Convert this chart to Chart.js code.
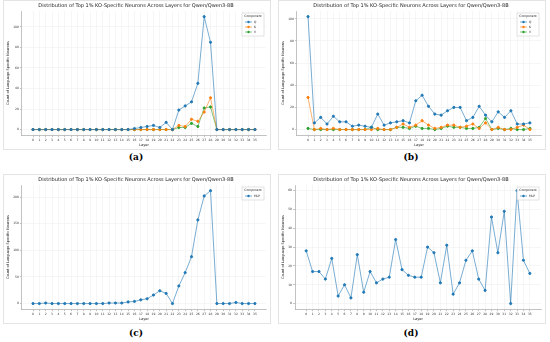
<!DOCTYPE html>
<html lang="en">
<head>
<meta charset="UTF-8">
<title>Top 1% KO-Specific Neurons</title>
<script src="https://cdn.jsdelivr.net/npm/chart.js"></script>
<style>
  body { margin: 0; background: #fff; width: 550px; height: 342px; position: relative; overflow: hidden; }
  .panel { position: absolute; width: 268px; height: 150px; border: 1px solid #e4e4e4; box-sizing: border-box; }
  .cap { position: absolute; width: 272px; text-align: center; font-family: "DejaVu Serif", "Liberation Serif", serif; font-weight: bold; font-size: 9px; }
</style>
</head>
<body>
<div class="panel" style="left:3px;top:0px"><canvas id="ca" width="266" height="148"></canvas></div>
<div class="panel" style="left:278px;top:0px"><canvas id="cb" width="266" height="148"></canvas></div>
<div class="panel" style="left:3px;top:174px"><canvas id="cc" width="266" height="148"></canvas></div>
<div class="panel" style="left:278px;top:174px"><canvas id="cd" width="266" height="148"></canvas></div>
<div class="cap" style="left:0;top:152px">(a)</div>
<div class="cap" style="left:275px;top:152px">(b)</div>
<div class="cap" style="left:0;top:328px">(c)</div>
<div class="cap" style="left:275px;top:328px">(d)</div>
<script>
const layers = Array.from({ length: 36 }, (_, i) => i);
const titleText = "Distribution of Top 1% KO-Specific Neurons Across Layers for Qwen/Qwen3-8B";

// (a) attention components
const aQ = [0,0,0,0,0,0,0,0,0,0,0,0,0,0,0,0,1,2,3,4,2,7,0,19,23,27,45,110,85,0,0,0,0,0,0,0];
const aK = [0,0,0,0,0,0,0,0,0,0,0,0,0,0,0,0,0,0,0,0,0,0,0,4,3,10,8,17,31,0,0,0,0,0,0,0];
const aV = [0,0,0,0,0,0,0,0,0,0,0,0,0,0,0,0,0,0,0,0,0,0,0,2,2,6,3,21,22,0,0,0,0,0,0,0];

// (b) attention components
const bQ = [102,6,11,5,12,7,7,3,4,3,2,14,4,6,7,8,6,26,31,21,14,13,17,20,20,8,11,21,13,7,16,11,17,5,5,6];
const bK = [29,0,1,0,1,0,0,0,0,0,0,1,0,0,2,5,2,4,8,4,1,2,4,4,2,3,5,1,6,0,2,0,0,2,4,0];
const bV = [1,0,0,0,0,0,0,0,0,0,2,0,0,0,2,2,1,3,1,1,0,1,3,2,2,1,1,2,10,0,1,0,1,0,0,1];

// (c), (d) MLP
const cMLP = [0,0,1,0,0,0,0,0,0,0,0,0,1,1,1,3,4,7,9,16,24,19,0,33,58,88,157,202,212,0,0,0,2,0,0,0];
const dMLP = [28,17,17,13,24,4,10,3,26,6,17,11,13,14,34,18,15,14,14,30,27,11,31,5,11,23,28,13,7,46,27,49,0,60,23,16];

const yTicksA = [0, 20, 40, 60, 80, 100];
const yTicksB = [0, 20, 40, 60, 80, 100];
const yTicksC = [0, 50, 100, 150, 200];
const yTicksD = [0, 10, 20, 30, 40, 50, 60];

const colors = { Q: "#1f77b4", K: "#ff7f0e", V: "#2ca02c", MLP: "#1f77b4" };
const FONT = "'DejaVu Sans', sans-serif";

// legend box drawn inside the plot, upper right
const boxLegend = {
  id: "boxLegend",
  afterDraw(chart) {
    const ctx = chart.ctx, a = chart.chartArea;
    const sets = chart.data.datasets;
    const w = 22, rowH = 5, h = 8 + sets.length * rowH;
    const x = a.right - w - 2, y = a.top + 2;
    ctx.save();
    ctx.fillStyle = "rgba(255,255,255,0.85)";
    ctx.strokeStyle = "#d0d0d0";
    ctx.lineWidth = 0.6;
    ctx.fillRect(x, y, w, h);
    ctx.strokeRect(x, y, w, h);
    ctx.fillStyle = "#222";
    ctx.font = "3px " + FONT;
    ctx.textAlign = "center";
    ctx.textBaseline = "middle";
    ctx.fillText("Component", x + w / 2, y + 3.5);
    ctx.textAlign = "left";
    sets.forEach((ds, i) => {
      const yy = y + 8 + i * rowH + 1;
      ctx.strokeStyle = ds.borderColor;
      ctx.lineWidth = 1;
      ctx.beginPath();
      ctx.moveTo(x + 3, yy);
      ctx.lineTo(x + 10, yy);
      ctx.stroke();
      ctx.fillStyle = ds.pointBackgroundColor;
      ctx.beginPath();
      ctx.arc(x + 6.5, yy, 1.2, 0, Math.PI * 2);
      ctx.fill();
      ctx.fillStyle = "#222";
      ctx.fillText(ds.label, x + 12, yy);
    });
    ctx.restore();
  }
};

function makeChart(id, series, yTicks, yMax) {
  const pad = yMax * 0.05;
  new Chart(document.getElementById(id), {
    type: "line",
    data: {
      datasets: series.map(([name, vals]) => ({
        label: name,
        data: layers.map((l, i) => ({ x: l, y: vals[i] })),
        borderColor: colors[name] + "99",
        pointBackgroundColor: colors[name],
        pointBorderColor: colors[name],
        borderWidth: 1,
        pointRadius: 1.1,
        pointHoverRadius: 1.1,
        tension: 0
      }))
    },
    options: {
      responsive: false,
      animation: false,
      layout: { padding: { left: 2, right: 4, top: 0, bottom: 2 } },
      plugins: {
        legend: { display: false },
        tooltip: { enabled: false },
        title: {
          display: true,
          text: titleText,
          color: "#222",
          font: { family: FONT, size: 5, weight: "normal" },
          padding: { top: 2, bottom: 2 }
        }
      },
      scales: {
        x: {
          type: "linear",
          min: -1.75,
          max: 36.75,
          afterBuildTicks: s => { s.ticks = layers.map(v => ({ value: v })); },
          ticks: { font: { family: FONT, size: 3 }, color: "#333", padding: 1, maxRotation: 0, autoSkip: false },
          grid: { color: "#ececec", lineWidth: 0.5, tickLength: 2, tickColor: "#888" },
          border: { color: "#999", width: 0.6 },
          title: { display: true, text: "Layer", font: { family: FONT, size: 3.5 }, color: "#222", padding: { top: 0, bottom: 0 } }
        },
        y: {
          min: -pad,
          max: yMax + pad,
          afterBuildTicks: s => { s.ticks = yTicks.map(v => ({ value: v })); },
          ticks: { font: { family: FONT, size: 3 }, color: "#333", padding: 1 },
          grid: { color: "#ececec", lineWidth: 0.5, tickLength: 2, tickColor: "#888" },
          border: { color: "#999", width: 0.6 },
          title: { display: true, text: "Count of Language-Specific Neurons", font: { family: FONT, size: 3.5 }, color: "#222", padding: { top: 0, bottom: 2 } }
        }
      }
    },
    plugins: [boxLegend]
  });
}

makeChart("ca", [["Q", aQ], ["K", aK], ["V", aV]], yTicksA, 110);
makeChart("cb", [["Q", bQ], ["K", bK], ["V", bV]], yTicksB, 102);
makeChart("cc", [["MLP", cMLP]], yTicksC, 212);
makeChart("cd", [["MLP", dMLP]], yTicksD, 60);
</script>
</body>
</html>
